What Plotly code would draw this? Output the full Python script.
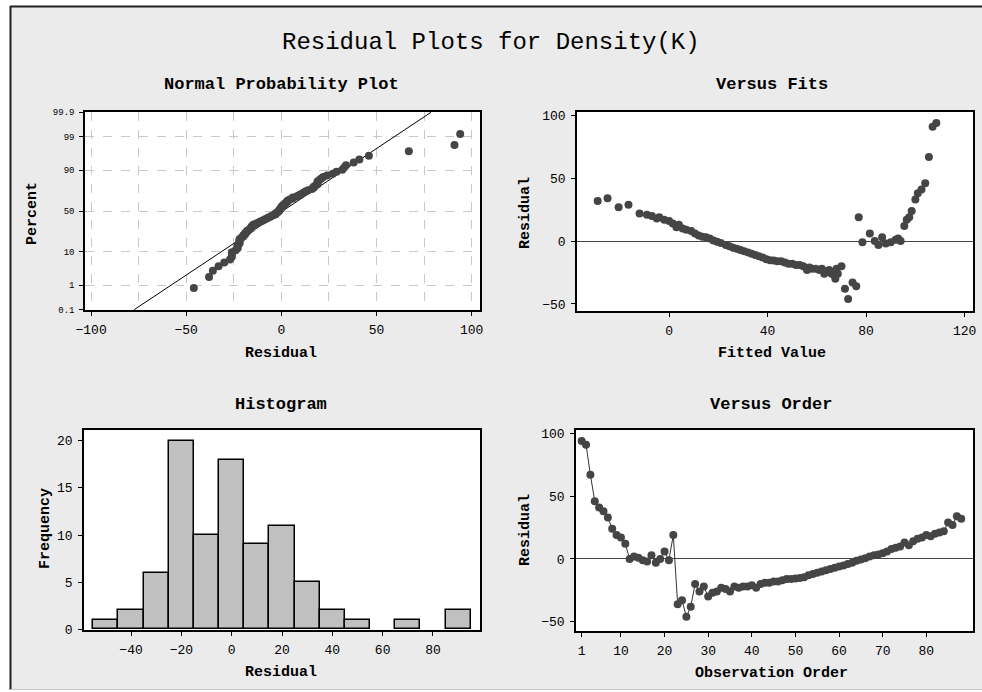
import plotly.graph_objects as go
from statistics import NormalDist, mean, stdev

W, H = 982, 692

# ---------------- data ----------------
observation_order = list(range(1, 89))

residuals = [
    94, 91, 67, 46, 41, 38, 33, 24, 19, 17, 12,          # 1-11
    0, 2, 1, -1, -2, 3, -3, 0, 6, -1,                     # 12-21
    19, -36, -33, -46, -38,                               # 22-26
    -20, -26, -22, -30, -27, -26, -23, -24, -26, -22,     # 27-36
    -23, -22, -22, -21, -23, -20, -19, -19, -18, -18,     # 37-46
    -17, -16, -16, -15.5, -15.2, -14.5, -13, -12, -11, -10,  # 47-56
    -9, -8, -7, -6, -5.2, -4, -3, -1.5, -0.5, 0.5,        # 57-66
    2, 3, 3.5, 4.5, 6, 8, 9, 10, 13, 11,                  # 67-76
    14, 16, 17, 19, 18, 20, 21, 22, 29, 27,               # 77-86
    34, 32,                                               # 87-88
]

fitted = [
    108.5, 107, 105.5, 104, 102.5, 101, 100, 98.5, 97.5, 96.5, 95.5,   # 1-11
    94, 93, 92, 90, 88, 86.5, 85, 83.5, 81.5, 78.5,                     # 12-21
    77, 76, 74.5, 72.7, 71.4,                                           # 22-26
    70, 68.5, 68, 67.5, 67, 66, 65, 64, 63, 62,                         # 27-36
    61, 59.5, 58, 57, 56, 54.5, 53, 51.5, 50, 48.5,                     # 37-46
    47, 45.5, 44, 42.5, 41, 39.5, 38, 36.5, 35, 33.5,                   # 47-56
    32, 30.5, 29, 27.5, 26, 24.5, 23, 21, 19.5, 18,                     # 57-66
    16.5, 15, 13.5, 12, 10.5, 9, 7, 5.5, 4, 3,                          # 67-76
    1.5, 0, -2, -4, -5, -7, -9, -12, -16.5, -20.5,                      # 77-86
    -25, -29,                                                           # 87-88
]

hist_bin_start, hist_bin_end, hist_bin_size = -55, 95, 10
prob_tick_pct = [0.1, 1, 10, 50, 90, 99, 99.9]
prob_tick_text = ["0.1", "1", "10", "50", "90", "99", "99.9"]
order_ticks = [1, 10, 20, 30, 40, 50, 60, 70, 80]

# ---------------- derived: normal probability plot ----------------
nd = NormalDist()
n = len(residuals)
res_sorted = sorted(residuals)
z_scores = [nd.inv_cdf((i + 1 - 0.3) / (n + 0.4)) for i in range(n)]
mu, sd = mean(residuals), stdev(residuals)
z_edge = nd.inv_cdf(0.999)
line_z = [-z_edge, z_edge]
line_x = [mu + sd * z for z in line_z]
prob_tick_z = [nd.inv_cdf(p / 100.0) for p in prob_tick_pct]

# ---------------- style ----------------
FONT = "Liberation Mono"
MARK = "#454545"


def px_x(p):
    return p / W


def px_y(p):
    return 1 - p / H


def ax_style(**kw):
    d = dict(showline=True, linecolor="black", linewidth=1.5, mirror=True,
             ticks="outside", ticklen=4, tickcolor="black", tickwidth=1,
             tickfont=dict(family=FONT, size=13, color="black"),
             showgrid=False, zeroline=False, ticklabelstandoff=3,
             automargin=False)
    d.update(kw)
    return d


fig = go.Figure()

# Normal probability plot
fig.add_trace(go.Scatter(x=line_x, y=line_z, mode="lines",
                         line=dict(color="black", width=1), xaxis="x", yaxis="y",
                         hoverinfo="skip"))
fig.add_trace(go.Scatter(x=res_sorted, y=z_scores, mode="markers",
                         marker=dict(color=MARK, size=8), xaxis="x", yaxis="y"))

# Versus fits
fig.add_trace(go.Scatter(x=fitted, y=residuals, mode="markers",
                         marker=dict(color=MARK, size=8), xaxis="x2", yaxis="y2"))

# Histogram
fig.add_trace(go.Histogram(x=residuals,
                           xbins=dict(start=hist_bin_start, end=hist_bin_end, size=hist_bin_size),
                           marker=dict(color="#C0C0C0", line=dict(color="black", width=1.5)),
                           xaxis="x3", yaxis="y3"))

# Versus order
fig.add_trace(go.Scatter(x=observation_order, y=residuals, mode="lines+markers",
                         line=dict(color="#333333", width=1),
                         marker=dict(color=MARK, size=8), xaxis="x4", yaxis="y4"))

grid_dash = dict(showgrid=True, gridcolor="#C8C8C8", griddash="dash", gridwidth=1)

fig.update_layout(
    template="none",
    width=W, height=H, margin=dict(l=0, r=0, t=0, b=0, pad=0), autosize=False,
    paper_bgcolor="#EBEBEB", plot_bgcolor="white", showlegend=False,
    bargap=0,
    xaxis=ax_style(domain=[px_x(85), px_x(480)], range=[-103.2, 104.4],
                   tickvals=[-100, -50, 0, 50, 100], anchor="y",
                   minor=dict(tickvals=[-75, -25, 25, 75], showgrid=True,
                              gridcolor="#C8C8C8", griddash="dash", ticks=""),
                   **grid_dash),
    yaxis=ax_style(domain=[px_y(310), px_y(112)], range=[-z_edge - 0.01, z_edge + 0.01],
                   tickvals=prob_tick_z, ticktext=prob_tick_text, anchor="x",
                   tickfont=dict(family=FONT, size=9, color="black"), **grid_dash),
    xaxis2=ax_style(domain=[px_x(577), px_x(973)], range=[-37.4, 123.4],
                    tickvals=[0, 40, 80, 120], anchor="y2"),
    yaxis2=ax_style(domain=[px_y(311), px_y(112)], range=[-55.6, 102.7],
                    tickvals=[-50, 0, 50, 100], anchor="x2",
                    zeroline=True, zerolinecolor="#444444", zerolinewidth=1),
    xaxis3=ax_style(domain=[px_x(84), px_x(480)], range=[-58.7, 98.7],
                    tickvals=[-40, -20, 0, 20, 40, 60, 80], anchor="y3"),
    yaxis3=ax_style(domain=[px_y(630), px_y(430)], range=[-0.07, 21.13],
                    tickvals=[0, 5, 10, 15, 20], anchor="x3"),
    xaxis4=ax_style(domain=[px_x(576), px_x(973)], range=[-0.3, 90.7],
                    tickvals=order_ticks, anchor="y4"),
    yaxis4=ax_style(domain=[px_y(631), px_y(430)], range=[-57.4, 102.7],
                    tickvals=[-50, 0, 50, 100], anchor="x4",
                    zeroline=True, zerolinecolor="#444444", zerolinewidth=1),
)

anns = []


def add_text(text, xp, yp, size, bold=True, angle=0):
    anns.append(dict(text=("<b>%s</b>" % text) if bold else text,
                     x=px_x(xp), y=px_y(yp), xref="paper", yref="paper",
                     xanchor="center", yanchor="middle", showarrow=False,
                     textangle=angle, font=dict(family=FONT, size=size, color="black")))


add_text("Residual Plots for Density(K)", 491, 42, 24, bold=False)
add_text("Normal Probability Plot", 281, 84, 17)
add_text("Versus Fits", 772, 84, 17)
add_text("Histogram", 281, 404, 17)
add_text("Versus Order", 771, 404, 17)
add_text("Residual", 281, 353, 15)
add_text("Percent", 32, 213, 15, angle=-90)
add_text("Fitted Value", 772, 353, 15)
add_text("Residual", 525, 213, 15, angle=-90)
add_text("Residual", 281, 672, 15)
add_text("Frequency", 45, 529, 15, angle=-90)
add_text("Observation Order", 771, 673, 15)
add_text("Residual", 525, 530, 15, angle=-90)
fig.update_layout(annotations=anns)

# outer frame (white margins + dark left/top border)
shapes = [
    dict(type="rect", xref="paper", yref="paper", x0=0, x1=px_x(9.5), y0=0, y1=1,
         fillcolor="white", line=dict(width=0)),
    dict(type="rect", xref="paper", yref="paper", x0=0, x1=1, y0=px_y(5.5), y1=1,
         fillcolor="white", line=dict(width=0)),
    dict(type="rect", xref="paper", yref="paper", x0=0, x1=1, y0=0, y1=px_y(690),
         fillcolor="white", line=dict(width=0)),
    dict(type="line", xref="paper", yref="paper", x0=px_x(10.5), x1=px_x(10.5),
         y0=px_y(690), y1=px_y(6), line=dict(color="#222222", width=2)),
    dict(type="line", xref="paper", yref="paper", x0=px_x(10), x1=1,
         y0=px_y(6.5), y1=px_y(6.5), line=dict(color="#222222", width=2)),
    dict(type="line", xref="paper", yref="paper", x0=px_x(10), x1=1,
         y0=px_y(689.5), y1=px_y(689.5), line=dict(color="#C8C8C8", width=1)),
]
fig.update_layout(shapes=shapes)

fig.write_html(
    "out.html",
    config={"displayModeBar": False},
    post_script="document.body.style.margin='0';document.body.style.padding='0';"
                "document.body.style.overflow='hidden';"
                "document.documentElement.style.overflow='hidden';",
)
